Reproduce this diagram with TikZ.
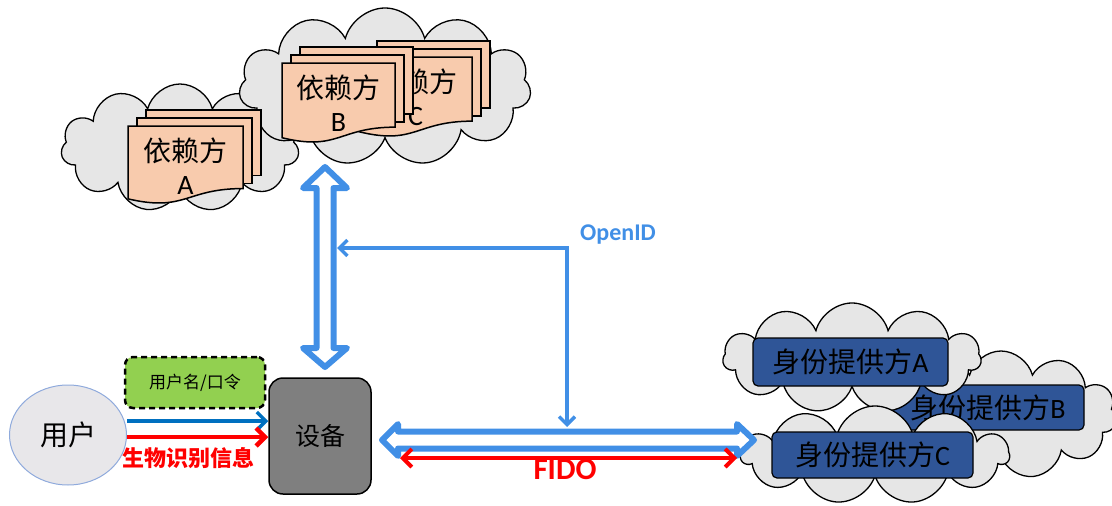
\documentclass[tikz,border=0pt]{standalone}
\usepackage{fontspec}
\setmainfont{Carlito}
\newfontfamily\cjk{Noto Sans CJK SC}
\usetikzlibrary{shapes.symbols,shapes.geometric,arrows.meta}

\definecolor{linkblue}{RGB}{65,143,230}
\definecolor{userblue}{RGB}{0,112,192}
\definecolor{cloudgray}{RGB}{230,230,230}
\definecolor{docpeach}{RGB}{248,203,173}
\definecolor{idpblue}{RGB}{47,85,151}
\definecolor{devgray}{RGB}{127,127,127}
\definecolor{credgreen}{RGB}{146,208,80}
\definecolor{userfill}{RGB}{232,231,234}
\definecolor{useredge}{RGB}{143,170,220}

\tikzset{
  puff/.style={cloud, cloud puffs=11, cloud ignores aspect, draw=black,
    line width=1.3, fill=cloudgray, inner sep=0pt},
  page/.style={draw=black, line width=1.5, fill=docpeach},
  doctext/.style={align=center, inner sep=0pt,
    font=\fontsize{28}{33}\selectfont},
  idbox/.style={draw=black, line width=1.2, fill=idpblue, rounded corners=5,
    inner sep=0pt, font=\fontsize{28}{30}\selectfont},
  fatlink/.style={draw=linkblue, line width=6, fill=white, line join=round},
  openid/.style={draw=linkblue, line width=3.5,
    arrows={Straight Barb[length=8pt,width=16pt]-Straight Barb[length=8pt,width=16pt]}},
  userlink/.style={draw=userblue, line width=3.5,
    -{Straight Barb[length=9pt,width=18pt]}},
  biolink/.style={draw=red, line width=4.5,
    -{Straight Barb[length=9pt,width=18pt]}},
  fidolink/.style={draw=red, line width=4,
    {Straight Barb[length=9pt,width=18pt]}-{Straight Barb[length=9pt,width=18pt]}},
}

% one document stack: back sheets, then the front sheet with a wavy bottom
\newcommand\docstack[4]{%
  \filldraw[page] (#1+18,#2-16) rectangle (#1+#3+18,#2+0.8*#4-13);
  \filldraw[page] (#1+9,#2-8) rectangle (#1+#3+9,#2+0.8*#4-5);
  \filldraw[page] (#1,#2) -- (#1+#3,#2) -- (#1+#3,#2+0.802*#4)
    .. controls (#1+0.5*#3,#2+0.802*#4) and (#1+0.5*#3,#2+1.107*#4)
    .. (#1,#2+0.934*#4) -- cycle;}

\begin{document}
\begin{tikzpicture}[x=1pt,y=-1pt]
\useasboundingbox (0,0) rectangle (1112,506);

% relying parties
\node[puff, minimum width=238, minimum height=128] (rpcloudA) at (180,148) {};
\node[puff, minimum width=292, minimum height=158] (rpcloudB) at (385,87) {};
\docstack{128}{126}{115}{78}
\node[doctext] (rpA) at (185.5,166.5) {{\cjk 依赖方}\\A};
\docstack{359}{57}{113}{80}
\node[doctext] (rpC) at (415.5,97.5) {{\cjk 依赖方}\\C};
\docstack{282}{63}{113}{80}
\node[doctext] (rpB) at (338.5,103.5) {{\cjk 依赖方}\\B};

% identity providers
\node[puff, minimum width=232, minimum height=128] (idcloudB) at (1001,415) {};
\node[idbox, minimum width=192, minimum height=45] (idpB) at (988,407.5) {{\cjk 身份提供方}B};
\node[puff, minimum width=258, minimum height=110] (idcloudA) at (852,358) {};
\node[idbox, minimum width=195, minimum height=48] (idpA) at (850.5,362) {{\cjk 身份提供方}A};
\node[puff, minimum width=268, minimum height=98] (idcloudC) at (875,455) {};
\node[idbox, minimum width=201, minimum height=46] (idpC) at (872.5,455) {{\cjk 身份提供方}C};

% user, credentials and device
\node[ellipse, draw=useredge, line width=1, fill=userfill,
  minimum width=117, minimum height=100, inner sep=0pt,
  font=\cjk\fontsize{28}{30}\selectfont] (user) at (68,435) {用户};
\node[draw=black, line width=2.5, dash pattern=on 6pt off 4pt,
  fill=credgreen, rounded corners=8, minimum width=140, minimum height=51,
  font=\cjk\fontsize{17}{20}\selectfont] (cred) at (195,382.5) {用户名/口令};
\node[draw=black, line width=1.5, fill=devgray, rounded corners=14,
  minimum width=102, minimum height=116,
  font=\cjk\fontsize{25}{28}\selectfont] (device) at (320,436) {设备};

\draw[userlink] ([yshift=14pt]user.east) -- ([yshift=15pt]device.west);
\draw[biolink] ([yshift=-2pt]user.east) -- ([yshift=-1pt]device.west);
\node[text=red, font=\cjk\bfseries\fontsize{22}{24}\selectfont] (bio)
  at (188,458) {生物识别信息};

% device <-> relying parties
\coordinate (vtop) at (325,167);
\coordinate (vbot) at (325,367);
\path[fatlink] (vtop) -- (347,188) -- (333.5,188) -- (333.5,348) -- (347,348)
  -- (vbot) -- (303,348) -- (316.5,348) -- (316.5,188) -- (303,188) -- cycle;

% device <-> identity providers
\coordinate (hleft) at (382,440);
\coordinate (hright) at (754,440);
\path[fatlink] (hleft) -- (398,424) -- (398,431.5) -- (737,431.5) -- (737,424)
  -- (hright) -- (737,456) -- (737,448.5) -- (398,448.5) -- (398,456) -- cycle;
\coordinate (fidoL) at (400,458);
\coordinate (fidoR) at (737,458);
\draw[fidolink] (fidoL) -- (fidoR);
\node[text=red, font=\bfseries\fontsize{31}{34}\selectfont] (fido) at (565,469) {FIDO};

% OpenID link between the two channels
\coordinate (vside) at (337,248);
\coordinate (htop) at (567,427);
\draw[openid] (vside) -| (htop);
\node[text=linkblue, font=\bfseries\fontsize{24}{28}\selectfont] (oid) at (618,235) {OpenID};
\end{tikzpicture}
\end{document}
